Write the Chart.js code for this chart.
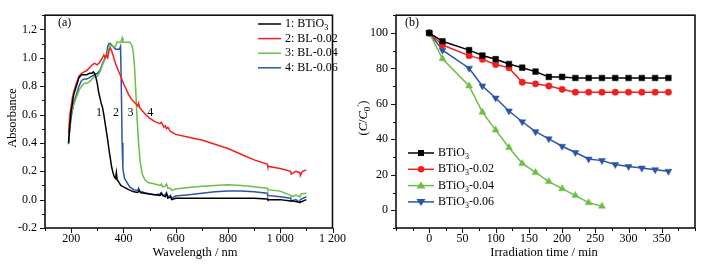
<!DOCTYPE html>
<html lang="en">
<head>
<meta charset="UTF-8">
<title>Absorbance spectra and degradation</title>
<style>
  html, body { margin: 0; padding: 0; background: #fff; }
  .wrap { position: relative; width: 703px; height: 264px; }
  .panel { position: absolute; top: 0; height: 264px; }
  #left { left: 0; width: 350px; }
  #right { left: 350px; width: 353px; }
</style>
</head>
<body>
<div class="wrap">
  <div class="panel" id="left"><canvas id="specChart" width="350" height="264"></canvas></div>
  <div class="panel" id="right"><canvas id="degChart" width="353" height="264"></canvas></div>
</div>
<script src="https://cdn.jsdelivr.net/npm/chart.js@4"></script>
<script>
// ---- (a) absorbance spectra: [wavelength nm, absorbance] ----
const specBT = [[190,0.40],[195,0.52],[200,0.62],[205,0.68],[210,0.74],[220,0.80],[230,0.86],[240,0.88],[250,0.88],[260,0.88],[270,0.89],[280,0.89],[285,0.90],[290,0.89],[295,0.86],[300,0.82],[305,0.76],[310,0.72],[315,0.68],[320,0.65],[325,0.60],[330,0.54],[335,0.48],[340,0.42],[345,0.35],[350,0.29],[355,0.23],[360,0.19],[365,0.16],[370,0.15],[373,0.19],[376,0.14],[380,0.13],[390,0.10],[400,0.09],[420,0.07],[440,0.055],[455,0.05],[460,0.065],[465,0.05],[480,0.045],[500,0.04],[520,0.035],[540,0.03],[545,0.045],[550,0.03],[560,0.02],[565,0.04],[570,0.01],[580,0.02],[585,0.0],[600,0.01],[700,0.01],[800,0.01],[900,0.01],[950,0.005],[952,0.0],[1000,0.0],[1040,-0.01],[1050,-0.01],[1075,-0.02],[1100,0.0]];
const specBL02 = [[190,0.47],[195,0.60],[200,0.66],[205,0.72],[210,0.76],[220,0.82],[230,0.87],[240,0.89],[250,0.90],[260,0.91],[270,0.93],[280,0.95],[290,0.96],[300,0.95],[310,0.97],[320,1.00],[325,1.02],[330,1.00],[335,1.02],[340,1.00],[345,1.05],[350,1.07],[355,1.05],[360,1.02],[370,0.96],[380,0.91],[390,0.87],[400,0.82],[410,0.78],[420,0.74],[430,0.71],[440,0.69],[450,0.67],[455,0.66],[458,0.68],[462,0.65],[470,0.63],[480,0.61],[490,0.59],[500,0.575],[520,0.55],[540,0.535],[545,0.545],[550,0.53],[555,0.51],[560,0.52],[565,0.50],[570,0.51],[580,0.48],[590,0.47],[600,0.46],[650,0.44],[700,0.42],[750,0.39],[800,0.36],[850,0.32],[900,0.28],[950,0.25],[952,0.235],[1000,0.22],[1040,0.20],[1042,0.18],[1060,0.20],[1075,0.19],[1077,0.17],[1085,0.20],[1100,0.21]];
const specBL04 = [[190,0.40],[195,0.52],[200,0.60],[210,0.67],[220,0.72],[230,0.77],[240,0.80],[250,0.82],[260,0.82],[270,0.83],[280,0.85],[290,0.87],[300,0.87],[310,0.90],[320,0.95],[330,0.99],[340,1.04],[345,1.08],[350,1.09],[360,1.08],[370,1.08],[375,1.11],[390,1.11],[395,1.14],[398,1.11],[425,1.11],[432,1.09],[437,1.05],[442,0.95],[447,0.78],[452,0.58],[458,0.40],[464,0.27],[472,0.18],[482,0.14],[495,0.12],[520,0.11],[540,0.10],[545,0.11],[550,0.09],[560,0.095],[565,0.11],[570,0.08],[580,0.08],[585,0.065],[600,0.075],[650,0.085],[700,0.095],[750,0.10],[800,0.105],[850,0.10],[900,0.09],[950,0.08],[952,0.07],[1000,0.06],[1040,0.03],[1042,0.02],[1060,0.03],[1075,0.02],[1080,0.04],[1100,0.045]];
const specBL06 = [[190,0.39],[195,0.50],[200,0.58],[210,0.68],[220,0.74],[230,0.80],[240,0.84],[250,0.85],[260,0.85],[270,0.86],[280,0.87],[290,0.88],[300,0.89],[310,0.91],[320,0.96],[330,1.00],[335,1.02],[340,1.08],[345,1.10],[350,1.10],[360,1.08],[370,1.06],[385,1.06],[389,1.08],[392,0.80],[395,0.40],[398,0.22],[404,0.15],[414,0.12],[424,0.09],[440,0.07],[455,0.065],[458,0.08],[462,0.06],[480,0.05],[500,0.04],[520,0.035],[540,0.04],[545,0.05],[550,0.03],[560,0.035],[565,0.05],[570,0.02],[580,0.03],[585,0.01],[600,0.025],[650,0.035],[700,0.045],[750,0.055],[800,0.06],[850,0.06],[900,0.055],[950,0.045],[952,0.03],[1000,0.02],[1040,0.01],[1042,-0.01],[1060,0.0],[1075,-0.02],[1077,0.0],[1100,0.02]];
const specNames = ['1: BTiO', '2: BL-0.02', '3: BL-0.04', '4: BL-0.06'];
const specColors = ['#000000', '#f02020', '#6cbf45', '#2b55a8'];
// curve numbers written next to the absorption edges
const edgeLabels = ['1', '2', '3', '4'];
const edgeLabelX = [307, 372, 427, 503];
const edgeLabelY = 0.61;

// ---- (b) degradation: C/C0 (%) vs irradiation time (min) ----
const times = [0, 20, 60, 80, 100, 120, 140, 160, 180, 200, 220, 240, 260, 280, 300, 320, 340, 360];
const degBT   = [100, 95.3, 90.3, 87.3, 85.2, 82.5, 80.4, 78.2, 75.2, 75.2, 74.6, 74.6, 74.6, 74.6, 74.6, 74.6, 74.6, 74.6];
const degBT02 = [100, 93.2, 87.2, 85.1, 82.2, 80.3, 72.2, 71.3, 70.1, 68.2, 66.6, 66.6, 66.6, 66.6, 66.6, 66.6, 66.6, 66.6];
const degBT04 = [100, 85.4, 70.1, 55.3, 45.2, 35.4, 26.4, 21.3, 16.2, 12.2, 8.3, 4.3, 2.3];
const degBT06 = [100, 90.3, 80.1, 70.1, 63.3, 56.0, 49.9, 44.3, 40.3, 36.1, 32.6, 28.9, 28.0, 25.8, 24.7, 23.8, 22.9, 22.0];
const degNames = ['BTiO', 'BTiO', 'BTiO', 'BTiO'];
const degSuffix = ['', '-0.02', '-0.04', '-0.06'];
const degColors = ['#000000', '#f02020', '#6cbf45', '#2b55a8'];
const degMarkers = ['rect', 'circle', 'triangle', 'triangle'];

const SERIF = "'Liberation Serif', 'Times New Roman', serif";

function fontFor(style, size) {
  if (style === 'i') return 'italic ' + size + 'px ' + SERIF;
  if (style === 'sub' || style === 'sup') return Math.round(size * 0.68) + 'px ' + SERIF;
  return size + 'px ' + SERIF;
}

// draws text made of parts [text, style] ; style: '', 'i', 'sub', 'sup'
function drawRich(ctx, parts, x, y, size, align) {
  let w = 0;
  parts.forEach(p => { ctx.font = fontFor(p[1], size); w += ctx.measureText(p[0]).width; });
  let cx = align === 'center' ? x - w / 2 : x;
  ctx.textAlign = 'left';
  ctx.textBaseline = 'middle';
  parts.forEach(p => {
    ctx.font = fontFor(p[1], size);
    let dy = 0;
    if (p[1] === 'sub') dy = size * 0.32;
    if (p[1] === 'sup') dy = -size * 0.3;
    ctx.fillText(p[0], cx, y + dy);
    cx += ctx.measureText(p[0]).width;
  });
}

// frame around the plot + outward major / minor ticks
const framePlugin = {
  id: 'frame',
  afterDraw(chart) {
    const { ctx, chartArea: a } = chart;
    const xs = chart.scales.x, ys = chart.scales.y;
    ctx.save();
    ctx.strokeStyle = '#111';
    ctx.lineWidth = 1;
    ctx.beginPath();
    xs.ticks.forEach(t => {
      const px = Math.round(xs.getPixelForValue(t.value)) + 0.5;
      const len = t.label !== '' ? 5 : 3;
      ctx.moveTo(px, a.bottom); ctx.lineTo(px, a.bottom + len);
    });
    ys.ticks.forEach(t => {
      const py = Math.round(ys.getPixelForValue(t.value)) + 0.5;
      const len = t.label !== '' ? 5 : 3;
      ctx.moveTo(a.left, py); ctx.lineTo(a.left - len, py);
    });
    ctx.stroke();
    ctx.lineWidth = 1.6;
    ctx.strokeRect(a.left, a.top, a.right - a.left, a.bottom - a.top);
    ctx.restore();
  }
};

const tickFont = { family: SERIF, size: 12 };

// ---------- left chart ----------
const specPlugin = {
  id: 'specText',
  afterDraw(chart) {
    const { ctx } = chart;
    const xs = chart.scales.x, ys = chart.scales.y;
    ctx.save();
    ctx.fillStyle = '#000';
    // curve numbers
    edgeLabels.forEach((s, i) => {
      drawRich(ctx, [[s, '']], xs.getPixelForValue(edgeLabelX[i]), ys.getPixelForValue(edgeLabelY), 12, 'center');
    });
    drawRich(ctx, [['(a)', '']], 58, 23, 12, 'left');
    // legend
    specNames.forEach((n, i) => {
      const y = 24 + i * 14.6;
      ctx.strokeStyle = specColors[i];
      ctx.lineWidth = 1.5;
      ctx.beginPath(); ctx.moveTo(258, y); ctx.lineTo(281, y); ctx.stroke();
      const parts = i === 0 ? [[n, ''], ['3', 'sub']] : [[n, '']];
      drawRich(ctx, parts, 285, y, 12, 'left');
    });
    // axis titles
    drawRich(ctx, [['Wavelength / nm', '']], 195, 253, 12.5, 'center');
    ctx.translate(13, 118);
    ctx.rotate(-Math.PI / 2);
    drawRich(ctx, [['Absorbance', '']], 0, 0, 12.5, 'center');
    ctx.restore();
  }
};

const specSets = [specBT, specBL02, specBL04, specBL06];

new Chart(document.getElementById('specChart'), {
  type: 'line',
  data: {
    datasets: specSets.map((s, i) => ({
      label: specNames[i],
      data: s.map(p => ({ x: p[0], y: p[1] })),
      borderColor: specColors[i],
      borderWidth: 1.5,
      pointRadius: 0,
      tension: 0
    }))
  },
  options: {
    responsive: false,
    animation: false,
    layout: { padding: { top: 7, right: 5, left: 0, bottom: 0 } },
    plugins: { legend: { display: false }, tooltip: { enabled: false } },
    scales: {
      x: {
        type: 'linear', min: 100, max: 1200,
        grid: { display: false, drawTicks: false },
        border: { display: false },
        ticks: {
          stepSize: 100, autoSkip: false, maxRotation: 0, padding: 4,
          color: '#000', font: tickFont,
          callback: v => v % 200 === 0 ? (v >= 1000 ? '1 ' + String(v).slice(1) : String(v)) : ''
        },
        afterFit: s => { s.height = 36; }
      },
      y: {
        min: -0.2, max: 1.3,
        grid: { display: false, drawTicks: false },
        border: { display: false },
        ticks: {
          stepSize: 0.1, autoSkip: false, padding: 8,
          color: '#000', font: tickFont,
          callback: v => Math.round(v * 10) % 2 === 0 ? (Math.abs(v) < 1e-9 ? '0.0' : v.toFixed(1)) : ''
        },
        afterFit: s => { s.width = 45; }
      }
    }
  },
  plugins: [framePlugin, specPlugin]
});

// ---------- right chart ----------
const degPlugin = {
  id: 'degText',
  afterDraw(chart) {
    const { ctx } = chart;
    ctx.save();
    ctx.fillStyle = '#000';
    drawRich(ctx, [['(b)', '']], 55, 23, 12, 'left');
    degNames.forEach((n, i) => {
      const y = 153 + i * 16.3;
      ctx.strokeStyle = degColors[i];
      ctx.lineWidth = 1.5;
      ctx.beginPath(); ctx.moveTo(58, y); ctx.lineTo(84, y); ctx.stroke();
      ctx.fillStyle = degColors[i];
      ctx.beginPath();
      if (i === 0) {
        ctx.rect(68, y - 3, 6, 6);
      } else if (i === 1) {
        ctx.arc(71, y, 3.2, 0, Math.PI * 2);
      } else if (i === 2) {
        ctx.moveTo(71, y - 4); ctx.lineTo(75.5, y + 3); ctx.lineTo(66.5, y + 3); ctx.closePath();
      } else {
        ctx.moveTo(71, y + 4); ctx.lineTo(75.5, y - 3); ctx.lineTo(66.5, y - 3); ctx.closePath();
      }
      ctx.fill();
      ctx.fillStyle = '#000';
      const parts = [[n, ''], ['3', 'sub']];
      if (degSuffix[i]) parts.push([degSuffix[i], '']);
      drawRich(ctx, parts, 88, y, 12, 'left');
    });
    drawRich(ctx, [['Irradiation time / min', '']], 194, 253, 12.5, 'center');
    ctx.translate(14, 118);
    ctx.rotate(-Math.PI / 2);
    drawRich(ctx, [['(', ''], ['C', 'i'], ['/', ''], ['C', 'i'], ['0', 'sub'], ['\u2032', 'sup'], [')', '']], 0, 0, 12.5, 'center');
    ctx.restore();
  }
};

const degSets = [degBT, degBT02, degBT04, degBT06];

new Chart(document.getElementById('degChart'), {
  type: 'line',
  data: {
    datasets: degSets.map((s, i) => ({
      label: degNames[i] + degSuffix[i],
      data: s.map((v, j) => ({ x: times[j], y: v })),
      borderColor: degColors[i],
      backgroundColor: degColors[i],
      borderWidth: 1.5,
      pointStyle: degMarkers[i],
      pointRotation: i === 3 ? 180 : 0,
      pointRadius: i === 0 ? 4 : (i === 1 ? 3.2 : 4),
      pointBorderWidth: 0.5,
      tension: 0
    }))
  },
  options: {
    responsive: false,
    animation: false,
    layout: { padding: { top: 7, right: 8, left: 0, bottom: 0 } },
    plugins: { legend: { display: false }, tooltip: { enabled: false } },
    scales: {
      x: {
        type: 'linear', min: -50, max: 400,
        grid: { display: false, drawTicks: false },
        border: { display: false },
        ticks: {
          stepSize: 25, autoSkip: false, maxRotation: 0, padding: 4,
          color: '#000', font: tickFont,
          callback: v => (v % 50 === 0 && v >= 0 && v <= 350) ? String(v) : ''
        },
        afterFit: s => { s.height = 36; }
      },
      y: {
        min: -10, max: 110,
        grid: { display: false, drawTicks: false },
        border: { display: false },
        ticks: {
          stepSize: 10, autoSkip: false, padding: 8,
          color: '#000', font: tickFont,
          callback: v => (v % 20 === 0 && v >= 0 && v <= 100) ? String(v) : ''
        },
        afterFit: s => { s.width = 46; }
      }
    }
  },
  plugins: [framePlugin, degPlugin]
});
</script>
</body>
</html>
